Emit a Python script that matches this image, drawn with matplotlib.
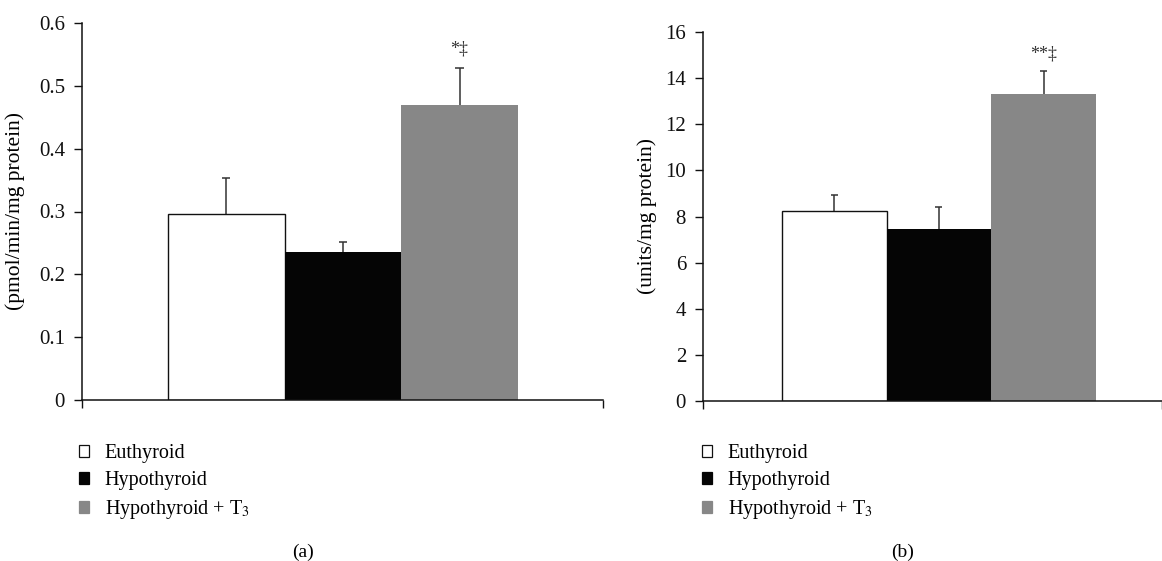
"""
Two-panel bar chart: enzyme activity in euthyroid, hypothyroid and
T3-treated hypothyroid groups. Saves out.png.
"""

import matplotlib
matplotlib.use("Agg")
import matplotlib.pyplot as plt
from matplotlib.patches import Patch

# ── data ──────────────────────────────────────────────────────────────────
groups      = ["Euthyroid", "Hypothyroid", "Hypothyroid + T$_3$"]
bar_colors  = ["#ffffff", "#050505", "#878787"]

a_means     = [0.296, 0.236, 0.469]
a_errs      = [0.058, 0.016, 0.059]
a_ylabel    = "(pmol/min/mg protein)"
a_yticks    = [0, 0.1, 0.2, 0.3, 0.4, 0.5, 0.6]
a_marks     = ["", "", "*‡"]
a_mark_y    = [0, 0, 0.559]

b_means     = [8.25, 7.44, 13.31]
b_errs      = [0.69, 0.98, 1.01]
b_ylabel    = "(units/mg protein)"
b_yticks    = [0, 2, 4, 6, 8, 10, 12, 14, 16]
b_marks     = ["", "", "**‡"]
b_mark_y    = [0, 0, 15.05]

panel_tags  = ["(a)", "(b)"]

plt.rcParams["font.family"] = ["Liberation Serif", "DejaVu Serif"]
plt.rcParams["mathtext.fontset"] = "stix"

W, H = 1162, 561
fig = plt.figure(figsize=(W / 100, H / 100), dpi=100)


def px(x0, y0, x1, y1):
    """pixel box (left, top, right, bottom) -> figure fraction rect"""
    return [x0 / W, 1 - y1 / H, (x1 - x0) / W, (y1 - y0) / H]


def draw_panel(ax, means, errs, yticks, ylabel, marks, mark_y, xlim, ylab_x):
    xs = [-1, 0, 1]
    tops = [m + e for m, e in zip(means, errs)]
    ax.bar(xs, means, width=1.0, color=bar_colors, edgecolor="#111111",
           linewidth=[1.0, 0, 0], zorder=2)
    # upper error bars only, drawn behind the bars
    cap = 0.035 * (xlim[1] - xlim[0]) / 4.47
    ax.vlines(xs, means, tops, color="#333333", linewidth=1.1, zorder=1)
    ax.hlines(tops, [x - cap for x in xs], [x + cap for x in xs],
              color="#333333", linewidth=1.1, zorder=1)
    for x, m, y in zip(xs, marks, mark_y):
        if m:
            ax.text(x, y, m, ha="center", va="center", fontsize=13,
                    color="#333333")

    ax.set_xlim(*xlim)
    ax.set_ylim(yticks[0], yticks[-1])
    ax.set_yticks(yticks)
    ax.set_yticklabels([f"{t:g}" for t in yticks], fontsize=15)
    ax.set_xticks(list(xlim))
    ax.set_xticklabels([])
    ax.tick_params(axis="both", direction="out", length=6, width=1,
                   colors="#111111", pad=6)
    for side in ["top", "right"]:
        ax.spines[side].set_visible(False)
    for side in ["left", "bottom"]:
        ax.spines[side].set_linewidth(1.1)
        ax.spines[side].set_color("#111111")
    ax.set_ylabel(ylabel, fontsize=15.5)
    ax.yaxis.set_label_coords(ylab_x, 0.5)


ax_a = fig.add_axes(px(81.7, 23, 603, 400))
draw_panel(ax_a, a_means, a_errs, a_yticks, a_ylabel, a_marks, a_mark_y,
           (-2.24, 2.23), -0.108)

ax_b = fig.add_axes(px(702.7, 32, 1162, 401))
draw_panel(ax_b, b_means, b_errs, b_yticks, b_ylabel, b_marks, b_mark_y,
           (-2.255, 2.13), -0.1)

# ── legends and panel tags ───────────────────────────────────────────────
handles = [Patch(facecolor=c, edgecolor="#111111" if c == "#ffffff" else c,
                 linewidth=0.9) for c in bar_colors]
for lx, tag_x, tag in [(79, 303, panel_tags[0]), (702, 903, panel_tags[1])]:
    fig.legend(handles, groups, loc="upper left",
               bbox_to_anchor=(lx / W, 1 - 444 / H),
               frameon=False, fontsize=14.5, handlelength=0.52,
               handleheight=0.52, handletextpad=0.75, labelspacing=0.4,
               borderpad=0, borderaxespad=0)
    fig.text(tag_x / W, 1 - 552 / H, tag, ha="center", va="center",
             fontsize=14)

fig.savefig("out.png", dpi=100)
